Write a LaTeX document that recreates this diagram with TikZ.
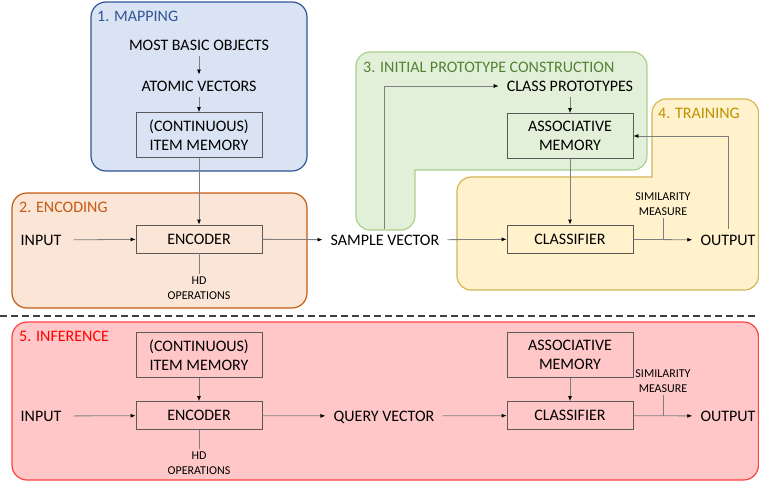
\documentclass[tikz,border=0pt]{standalone}
\usepackage{fontspec}
\setmainfont{Carlito}
\usetikzlibrary{arrows.meta}

% panel colours
\definecolor{mapfill}{HTML}{DAE3F3}\definecolor{mapline}{HTML}{2F5597}
\definecolor{encfill}{HTML}{FBE5D6}\definecolor{encline}{HTML}{C55A11}
\definecolor{protofill}{HTML}{E2F0D9}\definecolor{protoline}{HTML}{A9D18E}\definecolor{prototext}{HTML}{548235}
\definecolor{trainfill}{HTML}{FFF2CC}\definecolor{trainline}{HTML}{D6B656}\definecolor{traintext}{HTML}{BF9000}
\definecolor{inffill}{HTML}{FFC7C7}\definecolor{infline}{HTML}{FF4040}\definecolor{inftext}{HTML}{FF0000}
\definecolor{boxline}{HTML}{595959}
\definecolor{wire}{HTML}{7F7F7F}

\tikzset{
  panel/.style={line width=1.2pt, rounded corners=15pt},
  shapedpanel/.style={line width=1.2pt},
  paneltitle/.style={anchor=west, inner sep=0pt, font=\fontsize{16}{19}\selectfont,
    text height=10.5pt, text depth=0pt},
  label/.style={inner xsep=8pt, inner ysep=6pt, font=\fontsize{16}{19}\selectfont,
    text height=10.5pt, text depth=0pt, align=center},
  block/.style={draw=boxline, line width=0.8pt, minimum width=126pt, minimum height=28pt,
    inner sep=2pt, font=\fontsize{16}{19}\selectfont, align=center},
  tall/.style={block, minimum height=45pt},
  small/.style={inner sep=2pt, font=\fontsize{12}{15}\selectfont, align=center},
  conn/.style={draw=wire, line width=0.8pt, -{Latex[length=5pt,width=4pt,color=black]}},
  wireline/.style={draw=wire, line width=0.8pt},
}

\begin{document}
\begin{tikzpicture}[x=1pt,y=-1pt]
\useasboundingbox (0,0) rectangle (759,482);

% ---- panels ----
\draw[panel, draw=mapline, fill=mapfill] (91,2) rectangle (307,171);
\draw[panel, draw=encline, fill=encfill] (12,193) rectangle (307,308);
% L-shaped prototype panel: rounded outer corners, square inner corner
\draw[shapedpanel, draw=protoline, fill=protofill]
  (370,52) -- (633,52) .. controls (640.73,52) and (647,58.27) .. (647,66)
  -- (647,156) .. controls (647,163.73) and (640.73,170) .. (633,170)
  -- (415,170) -- (415,216) .. controls (415,223.73) and (408.73,230) .. (401,230)
  -- (370,230) .. controls (362.27,230) and (356,223.73) .. (356,216)
  -- (356,66) .. controls (356,58.27) and (362.27,52) .. (370,52) -- cycle;
% stepped training panel: rounded outer corners, square inner corner
\draw[shapedpanel, draw=trainline, fill=trainfill]
  (471,177) -- (652,177) -- (652,113) .. controls (652,105.27) and (658.27,99) .. (666,99)
  -- (744.5,99) .. controls (752.23,99) and (758.5,105.27) .. (758.5,113)
  -- (758.5,276) .. controls (758.5,283.73) and (752.23,290) .. (744.5,290)
  -- (471,290) .. controls (463.27,290) and (457,283.73) .. (457,276)
  -- (457,191) .. controls (457,183.27) and (463.27,177) .. (471,177) -- cycle;
\draw[panel, draw=infline, fill=inffill] (12,322) rectangle (758.5,480);

% separator between training and inference
\coordinate (sepL) at (0,316);
\coordinate (sepR) at (759,316);
\draw[line width=1.6pt, draw=black!75, dash pattern=on 7pt off 4pt] (sepL) -- (sepR);

% ---- panel titles ----
\node[paneltitle, text=mapline] (t1) at (97,16) {1. MAPPING};
\node[paneltitle, text=encline] (t2) at (19,207) {2. ENCODING};
\node[paneltitle, text=prototext] (t3) at (363,67) {3. INITIAL PROTOTYPE CONSTRUCTION};
\node[paneltitle, text=traintext] (t4) at (658,113) {4. TRAINING};
\node[paneltitle, text=inftext] (t5) at (19,336) {5. INFERENCE};

% ---- mapping / encoding / training ----
\node[label] (mbo) at (199,45) {MOST BASIC OBJECTS};
\node[label] (atom) at (199,86) {ATOMIC VECTORS};
\node[tall] (im1) at (199,135) {(CONTINUOUS)\\ITEM MEMORY};
\node[block] (enc1) at (199,239) {ENCODER};
\node[label, inner xsep=12pt] (in1) at (41,240) {INPUT};
\node[small] (hd1) at (199,288) {HD\\OPERATIONS};
\node[label] (sv) at (385,240) {SAMPLE VECTOR};
\node[label] (cp) at (570,86) {CLASS PROTOTYPES};
\node[tall] (am1) at (570,136) {ASSOCIATIVE\\MEMORY};
\node[block] (cl1) at (570,239) {CLASSIFIER};
\node[label] (out1) at (728,240) {OUTPUT};
\node[small] (sim1) at (663,204) {SIMILARITY\\MEASURE};

\draw[conn] (mbo) -- (atom);
\draw[conn] (atom) -- (im1);
\draw[conn] (im1) -- (enc1);
\draw[conn] (in1) -- (enc1);
\draw[wireline] (enc1.south) -- (hd1.north);
\draw[conn] (enc1) -- (sv);
\draw[conn] (sv.north -| 384,0) |- (cp.west);
\draw[conn] (cp) -- (am1);
\draw[conn] (am1) -- (cl1);
\draw[conn] (sv) -- (cl1);
\draw[conn] (cl1) -- (out1);
\draw[wireline] (sim1.south) -- (sim1.south |- cl1.east);
\draw[conn] (out1.north) |- (am1.east);

% ---- inference ----
\node[tall] (im2) at (199,355) {(CONTINUOUS)\\ITEM MEMORY};
\node[block] (enc2) at (199,415.5) {ENCODER};
\node[label, inner xsep=12pt] (in2) at (41,416) {INPUT};
\node[small] (hd2) at (199,463) {HD\\OPERATIONS};
\node[label] (qv) at (384,416) {QUERY VECTOR};
\node[tall] (am2) at (570,355) {ASSOCIATIVE\\MEMORY};
\node[block] (cl2) at (570,415.5) {CLASSIFIER};
\node[label] (out2) at (728,416) {OUTPUT};
\node[small] (sim2) at (663,381) {SIMILARITY\\MEASURE};

\draw[conn] (im2) -- (enc2);
\draw[conn] (in2) -- (enc2);
\draw[wireline] (enc2.south) -- (hd2.north);
\draw[conn] (enc2) -- (qv);
\draw[conn] (am2) -- (cl2);
\draw[conn] (qv) -- (cl2);
\draw[conn] (cl2) -- (out2);
\draw[wireline] (sim2.south) -- (sim2.south |- cl2.east);
\end{tikzpicture}
\end{document}
